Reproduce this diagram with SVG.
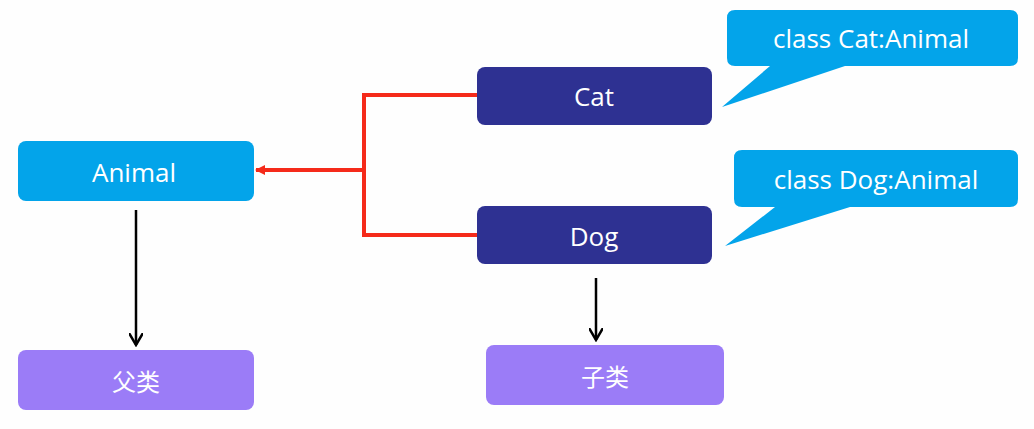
<svg xmlns="http://www.w3.org/2000/svg" width="1034" height="429" viewBox="0 0 1034 429">
<style>
text{font-family:"Open Sans","Noto Sans CJK SC",sans-serif;fill:#fff;text-anchor:middle;dominant-baseline:central}
.t{font-size:26px}.s{font-size:24px}
.blue{fill:#03a4ea}.navy{fill:#2e3192}.pur{fill:#9b7cf7}
</style>
<defs>
<marker id="ra" markerWidth="10" markerHeight="10" refX="9" refY="5" orient="auto" markerUnits="userSpaceOnUse"><path d="M0,0 L10,5 L0,10 Z" fill="#f52a1a"/></marker>
<marker id="ba" markerWidth="14" markerHeight="14" refX="12" refY="7" orient="auto" markerUnits="userSpaceOnUse"><path d="M0,0 L12,7 L0,14" fill="none" stroke="#000" stroke-width="2.5"/></marker>
</defs>
<rect width="1034" height="429" fill="#fefefe"/>
<g id="connectors">
<path d="M477,95 H364 V235 H477" fill="none" stroke="#f52a1a" stroke-width="4"/>
<line x1="364" y1="170" x2="256" y2="170" stroke="#f52a1a" stroke-width="4" marker-end="url(#ra)"/>
<line x1="136" y1="210" x2="136" y2="345" stroke="#000" stroke-width="2.5" marker-end="url(#ba)"/>
<line x1="596" y1="278" x2="596" y2="340" stroke="#000" stroke-width="2.5" marker-end="url(#ba)"/>
</g>
<g id="animal"><rect class="blue" x="18" y="141" width="236" height="60" rx="8"/><text class="t" x="134" y="172">Animal</text></g>
<g id="cat"><rect class="navy" x="477" y="67" width="235" height="58" rx="8"/><text class="t" x="594" y="96">Cat</text></g>
<g id="dog"><rect class="navy" x="477" y="206" width="235" height="58" rx="8"/><text class="t" x="594" y="236">Dog</text></g>
<g id="fulei"><rect class="pur" x="18" y="350" width="236" height="60" rx="8"/><text class="s" x="136" y="381">父类</text></g>
<g id="zilei"><rect class="pur" x="486" y="345" width="238" height="60" rx="8"/><text class="s" x="605" y="376">子类</text></g>
<g id="callout-cat"><path class="blue" d="M735,10 H1010 Q1018,10 1018,18 V58 Q1018,66 1010,66 H845 L722,107 L770,66 H735 Q727,66 727,58 V18 Q727,10 735,10 Z"/><text class="t" x="871" y="38">class Cat:Animal</text></g>
<g id="callout-dog"><path class="blue" d="M742,150 H1010 Q1018,150 1018,158 V199 Q1018,207 1010,207 H850 L725,246 L775,207 H742 Q734,207 734,199 V158 Q734,150 742,150 Z"/><text class="t" x="876" y="179">class Dog:Animal</text></g>
</svg>
